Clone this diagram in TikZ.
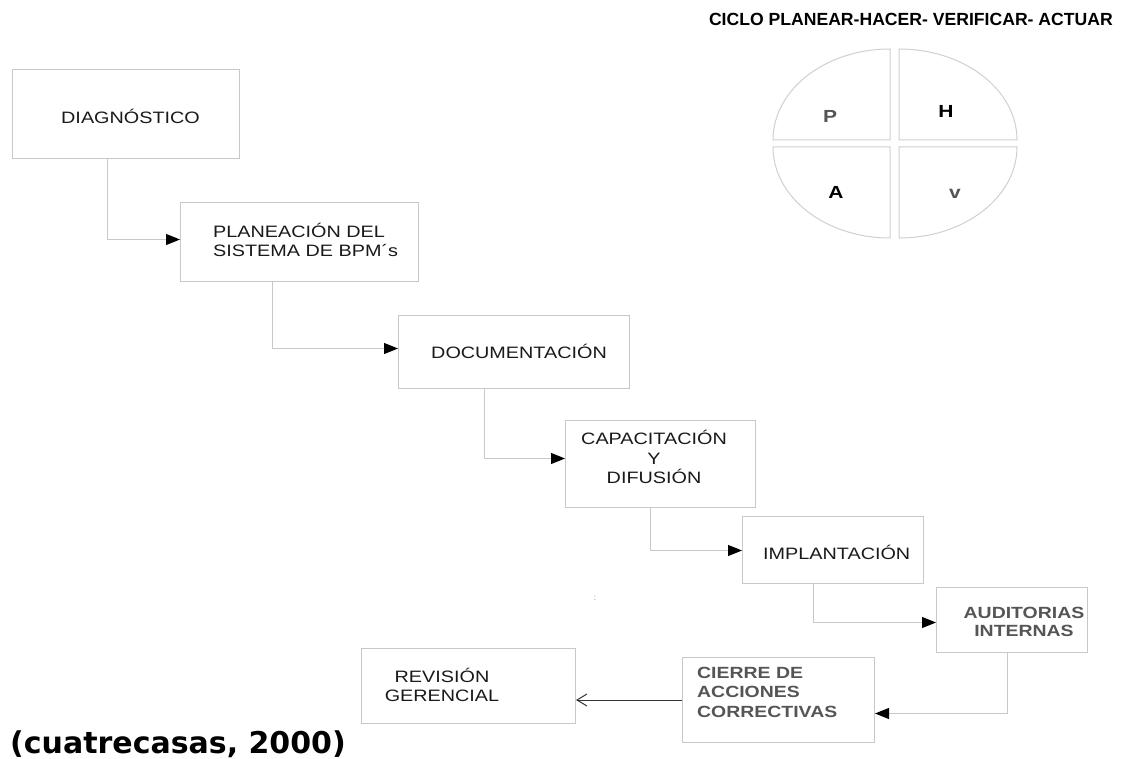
\documentclass[tikz,border=0pt]{standalone}
\usepackage{fontspec}
\setmainfont{Liberation Sans}
\newfontfamily\boxfont{Liberation Sans}[FakeStretch=1.2]
\newfontfamily\citefont{DejaVu Sans}
\usetikzlibrary{arrows.meta}
\definecolor{boxline}{HTML}{C8C8C8}
\definecolor{quadline}{HTML}{D0D0D0}
\definecolor{txtgray}{HTML}{555555}
\definecolor{txtblack}{HTML}{1A1A1A}
\definecolor{darkline}{HTML}{333333}
\begin{document}
\begin{tikzpicture}[x=1pt,y=-1pt,
  stepbox/.style={draw=boxline, line width=1pt, fill=white, inner sep=0pt, anchor=north west},
  txt/.style={inner sep=0pt, text=txtblack, font=\boxfont\fontsize{16.5}{19.5}\selectfont},
  txtb/.style={inner sep=0pt, text=txtgray, font=\boxfont\bfseries\fontsize{16.2}{19.5}\selectfont},
  conn/.style={draw=boxline, line width=1pt, -{Triangle[length=14pt,width=11pt,color=black]}},
  quad/.style={draw=quadline, line width=1pt},
  letter/.style={inner sep=0pt, anchor=base, font=\boxfont\bfseries\fontsize{17.5}{18}\selectfont}]
\useasboundingbox[fill=white] (0,0) rectangle (1125,759);

% title
\node[inner sep=0pt, anchor=base east, text=black, font=\bfseries\fontsize{17.6}{20}\selectfont] (title) at (1113,26) {CICLO PLANEAR-HACER- VERIFICAR- ACTUAR};

% PHVA ellipse
\draw[quad] (890,140) -- (773,140) arc[start angle=180, end angle=270, x radius=117, y radius=91] -- cycle;
\draw[quad] (899,140) -- (899,49) arc[start angle=270, end angle=360, x radius=118, y radius=91] -- cycle;
\draw[quad] (890,147) -- (773,147) arc[start angle=180, end angle=90, x radius=117, y radius=91] -- cycle;
\draw[quad] (899,147) -- (1017,147) arc[start angle=0, end angle=90, x radius=118, y radius=91] -- cycle;
\node[letter, text=txtgray] (lp) at (830,123) {P};
\node[letter, text=black] (lh) at (946,118) {H};
\node[letter, text=black] (la) at (836,199) {A};
\node[letter, text=txtgray] (lv) at (955,199) {v};

% boxes
\node[stepbox, minimum width=227pt, minimum height=89pt] (diag) at (12,69) {};
\node[stepbox, minimum width=238pt, minimum height=79pt] (plan) at (180,202) {};
\node[stepbox, minimum width=231pt, minimum height=73pt] (doc) at (398,315) {};
\node[stepbox, minimum width=190pt, minimum height=87pt] (cap) at (565,420) {};
\node[stepbox, minimum width=181pt, minimum height=67pt] (imp) at (742,516) {};
\node[stepbox, minimum width=151pt, minimum height=65pt] (aud) at (936,587) {};
\node[stepbox, minimum width=192pt, minimum height=85pt] (cie) at (682,657) {};
\node[stepbox, minimum width=214pt, minimum height=75pt] (rev) at (361,648) {};

% texts
\node[txt, anchor=base west] (diagt) at (61,124) {DIAGNÓSTICO};
\node[txt, anchor=west, align=left] (plant) at (213,240) {PLANEACIÓN DEL\\SISTEMA DE BPM´s};
\node[txt, anchor=base west] (doct) at (431,359) {DOCUMENTACIÓN};
\node[txt, align=center] (capt) at (654,457) {CAPACITACIÓN\\Y\\DIFUSIÓN};
\node[txt, anchor=base west] (impt) at (763,559) {IMPLANTACIÓN};
\node[txtb, align=center, font=\boxfont\bfseries\fontsize{16.2}{18}\selectfont] (audt) at (1024,622) {AUDITORIAS\\INTERNAS};
\node[txtb, anchor=west, align=left] (ciet) at (697,692) {CIERRE DE\\ACCIONES\\CORRECTIVAS};
\node[txt, align=center, font=\boxfont\fontsize{16.5}{19}\selectfont] (revt) at (442,685) {REVISIÓN\\GERENCIAL};

% small colon
\node[inner sep=0pt, text=gray, font=\fontsize{8}{8}\selectfont] (colon) at (595,598) {:};

% connectors
\draw[conn] ([xshift=-18.5pt]diag.south) |- ([yshift=2.5pt]plan.west);
\draw[conn] ([xshift=-27pt]plan.south) |- ([yshift=3.5pt]doc.west);
\draw[conn] ([xshift=-29.5pt]doc.south) |- ([yshift=5.5pt]cap.west);
\draw[conn] ([xshift=-10pt]cap.south) |- ([yshift=-0.5pt]imp.west);
\draw[conn] ([xshift=-19.5pt]imp.south) |- ([yshift=-2.5pt]aud.west);
\draw[conn] ([xshift=-4.5pt]aud.south) |- ([yshift=-13.5pt]cie.east);
\draw[draw=darkline, line width=1pt, -{Straight Barb[length=10pt,width=12pt]}] (cie.west) -- (cie.west -| rev.east);

% citation
\node[inner sep=0pt, anchor=base west, text=black, font=\citefont\bfseries\fontsize{30}{36}\selectfont] (cite) at (10,753) {(cuatrecasas, 2000)};
\end{tikzpicture}
\end{document}
